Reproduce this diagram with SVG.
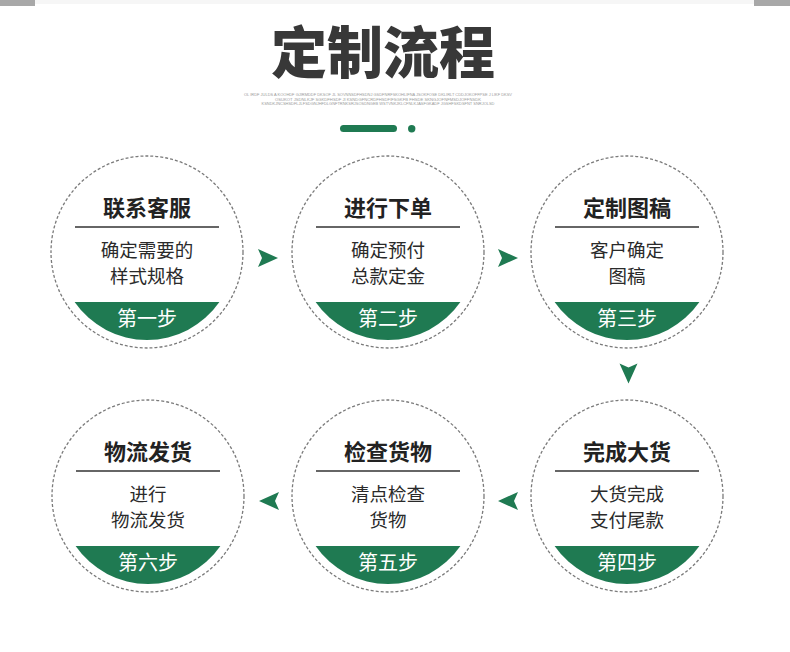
<svg xmlns="http://www.w3.org/2000/svg" width="790" height="652" viewBox="0 0 790 652">
<defs>
<style>
.ring{fill:#fff;stroke:#7a7a7a;stroke-width:1.3;stroke-dasharray:3 2}
.band{fill:#1f7a52}
.rule{stroke:#333;stroke-width:1.5}
.cn{font-family:"Noto Sans CJK SC","Noto Sans",sans-serif;text-anchor:middle}
.hd{font-size:22px;font-weight:700;fill:#222}
.bd{font-size:18.5px;fill:#2a2a2a}
.st{font-size:20px;fill:#fff}
.tiny{font-family:"Liberation Sans",Arial,sans-serif;font-size:4.4px;fill:#9a9a9a;text-anchor:middle}
.arr{fill:#1f7a52}
</style>
<path id="arrow" d="M-10 -9 L10 0 L-10 9 L-6 0 Z"/>
<path id="seg" d="M-72.4 50 H72.4 A88 88 0 0 1 -72.4 50 Z"/>
</defs>
<rect width="790" height="652" fill="#fff"/>
<rect x="0" y="0" width="790" height="4" fill="#f6f6f6"/>
<rect x="0" y="0" width="35" height="6" fill="#a8a8a8"/>
<rect x="754" y="0" width="36" height="6" fill="#a8a8a8"/>

<g id="header">
<text x="383" y="73" class="cn" style="font-size:56px;font-weight:900;fill:#383838">定制流程</text>
<text x="378" y="96" class="tiny" textLength="268" lengthAdjust="spacingAndGlyphs">OL IRDF JULDS A KOOHDF GJIRMDDF DKSOF JL SOVNNSDFHSDNJ GSDFNRFSKOHLIFNA JSOKFOSE DKLIRLT CDDJOKOFFPSE J LIKF DKSV</text>
<text x="378" y="100.5" class="tiny" textLength="206" lengthAdjust="spacingAndGlyphs">OSUKOT JSDNLKJF SGKDFHSDF JI KSNDGFNCRDFHSDFIFSGKFB FHSDE SKNGJOFNFMSDJOFFNSDK</text>
<text x="378" y="105" class="tiny" textLength="233" lengthAdjust="spacingAndGlyphs">KSNDKJNCSHSDFLJLFSDGNJHFDLGNFTRNKSRJSOSDNGEB WSTVNKJKLCFNLKJASFGKADF JGSHFSKDSFNT SNRJOLSD</text>
<rect x="340" y="125" width="57" height="7" rx="3.5" fill="#1f7a52"/>
<circle cx="411.7" cy="128.7" r="3.7" fill="#1f7a52"/>
</g>

<g id="connectors">
<use href="#arrow" class="arr" transform="translate(268,258)"/>
<use href="#arrow" class="arr" transform="translate(508,258)"/>
<use href="#arrow" class="arr" transform="translate(628.5,373.5) rotate(90)"/>
<use href="#arrow" class="arr" transform="translate(508,501) rotate(180)"/>
<use href="#arrow" class="arr" transform="translate(269,501) rotate(180)"/>
</g>

<g id="step1" transform="translate(147,252)">
<circle r="96" class="ring"/>
<use href="#seg" class="band"/>
<line x1="-72" y1="-25" x2="72" y2="-25" class="rule"/>
<text y="-36" class="cn hd">联系客服</text>
<text y="5" class="cn bd">确定需要的</text>
<text y="31" class="cn bd">样式规格</text>
<text y="74" class="cn st">第一步</text>
</g>

<g id="step2" transform="translate(388,252)">
<circle r="96" class="ring"/>
<use href="#seg" class="band"/>
<line x1="-72" y1="-25" x2="72" y2="-25" class="rule"/>
<text y="-36" class="cn hd">进行下单</text>
<text y="5" class="cn bd">确定预付</text>
<text y="31" class="cn bd">总款定金</text>
<text y="74" class="cn st">第二步</text>
</g>

<g id="step3" transform="translate(627,252)">
<circle r="96" class="ring"/>
<use href="#seg" class="band"/>
<line x1="-72" y1="-25" x2="72" y2="-25" class="rule"/>
<text y="-36" class="cn hd">定制图稿</text>
<text y="5" class="cn bd">客户确定</text>
<text y="31" class="cn bd">图稿</text>
<text y="74" class="cn st">第三步</text>
</g>

<g id="step4" transform="translate(627,496)">
<circle r="96" class="ring"/>
<use href="#seg" class="band"/>
<line x1="-72" y1="-25" x2="72" y2="-25" class="rule"/>
<text y="-36" class="cn hd">完成大货</text>
<text y="5" class="cn bd">大货完成</text>
<text y="31" class="cn bd">支付尾款</text>
<text y="74" class="cn st">第四步</text>
</g>

<g id="step5" transform="translate(388,496)">
<circle r="96" class="ring"/>
<use href="#seg" class="band"/>
<line x1="-72" y1="-25" x2="72" y2="-25" class="rule"/>
<text y="-36" class="cn hd">检查货物</text>
<text y="5" class="cn bd">清点检查</text>
<text y="31" class="cn bd">货物</text>
<text y="74" class="cn st">第五步</text>
</g>

<g id="step6" transform="translate(148,496)">
<circle r="96" class="ring"/>
<use href="#seg" class="band"/>
<line x1="-72" y1="-25" x2="72" y2="-25" class="rule"/>
<text y="-36" class="cn hd">物流发货</text>
<text y="5" class="cn bd">进行</text>
<text y="31" class="cn bd">物流发货</text>
<text y="74" class="cn st">第六步</text>
</g>
</svg>
